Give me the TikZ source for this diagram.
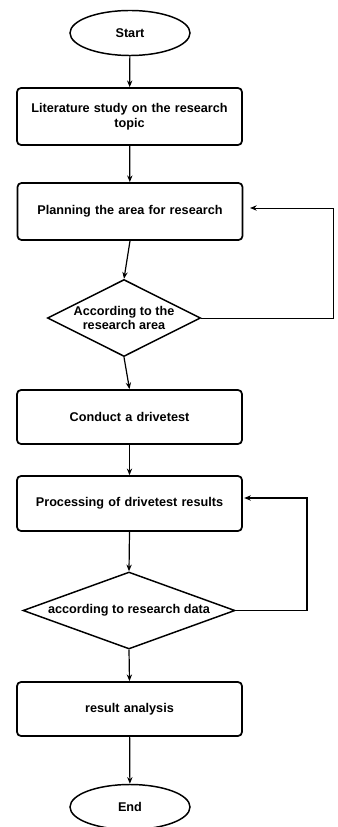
\documentclass[tikz,border=0pt]{standalone}
\usepackage{fontspec}
\setmainfont{Liberation Sans}
\usetikzlibrary{shapes.geometric,arrows.meta}

\tikzset{
  txt/.style={font=\fontsize{9.5}{11}\selectfont\bfseries, align=center, text=black},
  terminal/.style={txt, ellipse, draw, line width=1.1pt, minimum width=90pt, minimum height=33.75pt, inner sep=0pt},
  process/.style={txt, rectangle, rounded corners=3pt, draw, line width=1.3pt, minimum width=168.75pt, minimum height=41.25pt, text width=160pt},
  decision/.style={txt, diamond, draw, line width=1.1pt, inner sep=0pt},
  flow/.style={-{Stealth[length=5pt,width=4pt]}, line width=0.9pt}
}

\begin{document}
\begin{tikzpicture}[x=0.75pt,y=0.75pt,yscale=-1,xscale=1]
\useasboundingbox (0,0) rectangle (337,827);

%Shape: Ellipse [start]
\node [terminal] (start) at (130,33) {Start};
%Shape: Rectangle [literature]
\node [process, minimum height=42.75pt] (lit) at (129.5,116.5) {Literature study on the research\\topic};
%Shape: Rectangle [planning]
\node [process, minimum height=42.75pt] (plan) at (130,211.5) {Planning the area for research};
%Shape: Diamond [area check]
\node [decision, aspect=2, minimum width=114.75pt, minimum height=57.75pt] (area) at (124,318) {According to the\\research area};
%Shape: Rectangle [drivetest]
\node [process, minimum height=40.5pt] (drive) at (129.5,417) {Conduct a drivetest};
%Shape: Rectangle [processing]
\node [process] (proc) at (129.5,503.5) {Processing of drivetest results};
%Shape: Diamond [data check]
\node [decision, aspect=2.75, minimum width=159pt, minimum height=57.75pt] (data) at (129,610.5) {according to research data};
%Shape: Rectangle [analysis]
\node [process, minimum height=40.5pt] (anal) at (129.5,709) {result analysis};
%Shape: Ellipse [end]
\node [terminal] (end) at (130,807) {End};

%Straight Lines [main flow]
\draw [flow] (start) -- (lit);
\draw [flow] (lit) -- (plan);
\draw [flow] (plan.south) -- (area.north);
\draw [flow] (area.south) -- (drive.north);
\draw [flow] (drive) -- (proc);
\draw [flow] (proc.south) -- (data.north);
\draw [flow] (data.south) -- (anal.north);
\draw [flow] (anal) -- (end);

%Straight Lines [loop back]
\coordinate (back1) at (333,208);
\coordinate (back2) at (307,498);
\draw [flow, line width=0.7pt, shorten >=5pt] (area.east) -| (back1) -- (plan.east |- back1);
\draw [flow, shorten >=1pt] (data.east) -| (back2) -- (proc.east |- back2);

\end{tikzpicture}
\end{document}
